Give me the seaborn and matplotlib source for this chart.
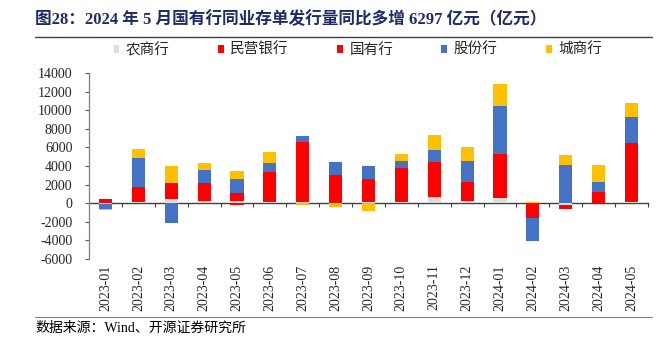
import numpy as np
import matplotlib
matplotlib.use("Agg")
import matplotlib.pyplot as plt
from matplotlib.lines import Line2D
from matplotlib.patches import Patch
import seaborn as sns

months = ["2023-01", "2023-02", "2023-03", "2023-04", "2023-05", "2023-06",
          "2023-07", "2023-08", "2023-09", "2023-10", "2023-11", "2023-12",
          "2024-01", "2024-02", "2024-03", "2024-04", "2024-05"]
rural = [-100, 120, 460, 250, 250, 100, 100, -50, 150, 150, 710, 250, 540, 0, -150, 0, 100]
private = [0, 50, 50, 0, -150, 0, 100, 0, 0, 50, 50, 100, 80, -100, 0, 0, 30]
state = [430, 1615, 1700, 1960, 820, 3220, 6330, 3070, 2490, 3550, 3700, 1970, 4630, -1500, -450, 1250, 6300]
joint = [-500, 3100, -2100, 1360, 1500, 1000, 640, 1360, 1320, 820, 1250, 2210, 5250, -2500, 4070, 1040, 2890]
city = [-180, 930, 1820, 750, 890, 1180, -200, -400, -820, 710, 1610, 1500, 2280, 100, 1070, 1820, 1500]

series_names = ["农商行", "民营银行", "国有行", "股份行", "城商行"]
series_vals = [rural, private, state, joint, city]
colors = ["#DCDCDC", "#FF0000", "#FF0000", "#4472C4", "#FFC000"]

sns.set_theme(style="white")
plt.rcParams["font.family"] = ["Liberation Serif", "Noto Sans CJK SC"]
plt.rcParams["axes.unicode_minus"] = False

fig = plt.figure(figsize=(6.70, 3.38), dpi=100)
ax = fig.add_axes([0.133, 0.234, 0.834, 0.550])

pos_bottom = np.zeros(len(months))
neg_bottom = np.zeros(len(months))
for name, vals, c in zip(series_names, series_vals, colors):
    v = np.array(vals, dtype=float)
    bottoms = np.where(v >= 0, pos_bottom, neg_bottom)
    sns.barplot(x=months, y=v, bottom=bottoms, color=c, saturation=1,
                width=0.4, errorbar=None, ax=ax, edgecolor="none", linewidth=0)
    pos_bottom += np.where(v >= 0, v, 0)
    neg_bottom += np.where(v < 0, v, 0)

ax.set_xlim(-0.5, len(months) - 0.5)
ax.set_ylim(-6000, 14000)
ax.set_yticks(np.arange(-6000, 14001, 2000))
ax.set_yticklabels([str(t) for t in range(-6000, 14001, 2000)], fontsize=10,
                   family="Liberation Serif")
ax.tick_params(axis="y", direction="out", length=3, width=0.8, color="#595959",
               pad=9, left=True)
ax.set_xticks(range(len(months)))
ax.set_xticklabels(months, rotation=90, fontsize=10, family="Liberation Serif")
ax.tick_params(axis="x", length=0, pad=4)
for s in ["top", "right", "bottom"]:
    ax.spines[s].set_visible(False)
ax.spines["left"].set_color("#7F7F7F")
ax.spines["left"].set_linewidth(0.9)
ax.set_xlabel("")
ax.set_ylabel("")
ax.grid(False)

# zero axis with category-boundary ticks
sec = ax.secondary_xaxis(0.3)
sec.set_xticks(np.arange(0.5, len(months), 1.0))
sec.set_xticklabels([])
sec.tick_params(direction="out", length=3, width=0.8, color="#404040")
sec.spines["bottom"].set_color("#404040")
sec.spines["bottom"].set_linewidth(1.0)

handles = [Patch(facecolor=c, edgecolor="none") for c in colors]
fig.legend(handles, series_names, loc="center", ncol=5,
           bbox_to_anchor=(0.534, 1 - 50 / 338), frameon=False,
           prop={"family": "Noto Sans CJK SC", "size": 10.5},
           handlelength=0.4, handleheight=0.4, handletextpad=0.45,
           columnspacing=3.3)

fig.text(35 / 670, 1 - 20 / 338,
         "图28：2024 年 5 月国有行同业存单发行量同比多增 6297 亿元（亿元）",
         fontsize=12, fontweight="bold", color="#1F2A6B", va="center", ha="left",
         family=["Liberation Serif", "Noto Sans CJK SC"])
fig.add_artist(Line2D([35 / 670, 652 / 670], [1 - 37 / 338, 1 - 37 / 338],
                      color="#404040", linewidth=1.0, transform=fig.transFigure))
fig.add_artist(Line2D([35 / 670, 652 / 670], [1 - 317 / 338, 1 - 317 / 338],
                      color="#808080", linewidth=0.8, transform=fig.transFigure))
fig.text(35 / 670, 1 - 328 / 338, "数据来源：Wind、开源证券研究所",
         fontsize=10, color="#000000", va="center", ha="left",
         family=["Liberation Serif", "Noto Sans CJK SC"])

fig.savefig("out.png", dpi=100)
